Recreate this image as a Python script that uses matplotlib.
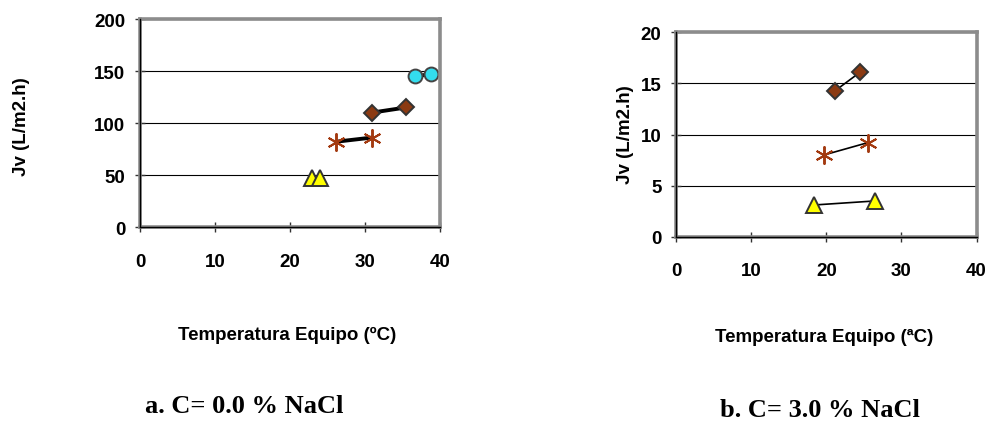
import matplotlib
matplotlib.use("Agg")
import matplotlib.pyplot as plt

# Panel a: C = 0.0 % NaCl
a_tri_x = [22.9, 24.0];  a_tri_y = [47, 47]
a_star_x = [26.1, 30.9]; a_star_y = [82, 86]
a_dia_x = [30.9, 35.5];  a_dia_y = [110, 115]
a_cir_x = [36.7, 38.8];  a_cir_y = [145, 147]

# Panel b: C = 3.0 % NaCl
b_dia_x = [21.2, 24.5];  b_dia_y = [14.3, 16.1]
b_star_x = [19.7, 25.5]; b_star_y = [8.0, 9.2]
b_tri_x = [18.3, 26.5];  b_tri_y = [3.1, 3.5]

xticks = [0, 10, 20, 30, 40]
a_yticks = [0, 50, 100, 150, 200]
b_yticks = [0, 5, 10, 15, 20]

SANS = "Liberation Sans"
SERIF = "Liberation Serif"

fig = plt.figure(figsize=(9.92, 4.27), dpi=100)
axa = fig.add_axes([0.1411, 0.466, 0.3024, 0.487])
axb = fig.add_axes([0.6815, 0.4433, 0.303, 0.4787])

tri = dict(marker="^", markersize=11, markerfacecolor="#FFFF00", markeredgecolor="#333333", markeredgewidth=1.4)
star = dict(marker=(6, 2, 0), markersize=13, markeredgecolor="#A33A10", markeredgewidth=1.4)
dia = dict(marker="D", markersize=8.5, markerfacecolor="#8B3A12", markeredgecolor="#333333", markeredgewidth=1.4)
cir = dict(marker="o", markersize=10, markerfacecolor="#33DDEE", markeredgecolor="#444444", markeredgewidth=1.4)

axa.plot(a_tri_x, a_tri_y, color="black", lw=2.8, **tri)
axa.plot(a_star_x, a_star_y, color="black", lw=2.8, **star)
axa.plot(a_dia_x, a_dia_y, color="black", lw=2.8, **dia)
axa.plot(a_cir_x, a_cir_y, color="black", lw=2.8, **cir)

axb.plot(b_dia_x, b_dia_y, color="black", lw=1.2, **dia)
axb.plot(b_star_x, b_star_y, color="black", lw=1.2, **star)
axb.plot(b_tri_x, b_tri_y, color="black", lw=1.2, **tri)

def style(ax, yticks, ylim):
    ax.set_xlim(0, 40)
    ax.set_ylim(*ylim)
    ax.set_xticks(xticks)
    ax.set_yticks(yticks)
    ax.set_xticklabels([str(v) for v in xticks], fontsize=13.5, fontweight="bold", family=SANS)
    ax.set_yticklabels([str(v) for v in yticks], fontsize=13.5, fontweight="bold", family=SANS)
    ax.tick_params(direction="inout", length=7, width=1, color="#333333")
    ax.tick_params(axis="y", pad=7)
    ax.tick_params(axis="x", pad=15)
    for s in ax.spines.values():
        s.set_color("#8C8C8C")
        s.set_linewidth(2.6)
    ax.grid(axis="y", color="black", lw=0.8)
    ax.set_axisbelow(True)
    ax.plot([0, 0], [0, 1], transform=ax.transAxes, color="black", lw=1, clip_on=False, zorder=5)
    ax.plot([0, 1], [0, 0], transform=ax.transAxes, color="black", lw=1, clip_on=False, zorder=5)

style(axa, a_yticks, (0, 200))
style(axb, b_yticks, (0, 20))

fig.text(22 / 992, 1 - 127 / 427, "Jv (L/m2.h)", rotation=90, ha="center", va="center",
         fontsize=13.5, fontweight="bold", family=SANS)
fig.text(626 / 992, 1 - 135 / 427, "Jv (L/m2.h)", rotation=90, ha="center", va="center",
         fontsize=13.5, fontweight="bold", family=SANS)

fig.text(287 / 992, 1 - 335 / 427, "Temperatura Equipo (ºC)", ha="center", va="center",
         fontsize=13.5, fontweight="bold", family=SANS)
fig.text(824 / 992, 1 - 337 / 427, "Temperatura Equipo (ªC)", ha="center", va="center",
         fontsize=13.5, fontweight="bold", family=SANS)

fig.text(244 / 992, 1 - 407 / 427, "a. C= 0.0 % NaCl", ha="center", va="center",
         fontsize=19, fontweight="bold", family=SERIF)
fig.text(820 / 992, 1 - 411 / 427, "b. C= 3.0 % NaCl", ha="center", va="center",
         fontsize=19, fontweight="bold", family=SERIF)

fig.savefig("out.png", dpi=100)
